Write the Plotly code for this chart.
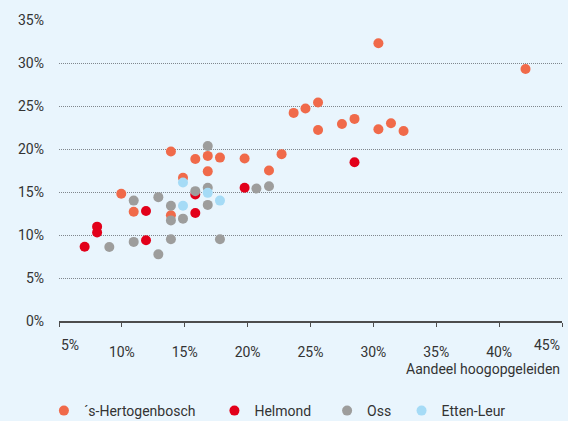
import plotly.graph_objects as go

# ---------------- data ----------------
series_names = ["\u00b4s-Hertogenbosch", "Helmond", "Oss", "Etten-Leur"]

hertogenbosch_x = [9.95, 10.94, 13.9, 13.9, 14.86, 15.84, 16.83, 16.83, 17.8, 19.76,
                   21.7, 22.7, 23.66, 24.6, 25.6, 25.6, 27.5, 28.5, 30.4, 30.4,
                   31.4, 32.4, 42.1]
hertogenbosch_y = [14.8, 12.7, 19.7, 12.3, 16.66, 18.84, 19.2, 17.4, 19.0, 18.9,
                   17.5, 19.4, 24.2, 24.7, 25.4, 22.2, 22.9, 23.5, 22.3, 32.3,
                   23.0, 22.1, 29.3]

helmond_x = [7.04, 8.03, 8.03, 11.92, 11.92, 15.84, 15.84, 19.76, 28.5]
helmond_y = [8.64, 10.97, 10.3, 12.8, 9.38, 12.56, 14.7, 15.5, 18.45]

oss_x = [9.0, 10.94, 10.94, 12.9, 12.9, 13.9, 13.9, 13.9, 14.86, 15.84,
         16.83, 16.83, 16.83, 17.8, 20.7, 21.7]
oss_y = [8.6, 14.0, 9.2, 14.4, 7.75, 13.4, 11.7, 9.5, 11.9, 15.1,
         20.35, 15.5, 13.5, 9.5, 15.4, 15.66]

ettenleur_x = [14.86, 14.86, 16.83, 17.8]
ettenleur_y = [16.1, 13.4, 14.9, 14.0]

x_tick_vals = [5, 10, 15, 20, 25, 30, 35, 40, 45]
x_tick_labels = ["5%", "10%", "15%", "20%", "25%", "30%", "35%", "40%", "45%"]
y_tick_vals = [0, 5, 10, 15, 20, 25, 30, 35]
y_tick_labels = ["0%", "5%", "10%", "15%", "20%", "25%", "30%", "35%"]
x_axis_title = "Aandeel hoogopgeleiden"

# ---------------- style ----------------
colors = ["#F06A4A", "#E2001A", "#9D9D9C", "#A5DBF6"]
bg = "#E9F5FD"
font_family = "Roboto, 'DejaVu Sans', sans-serif"
text_color = "#333333"
fnt = dict(family=font_family, size=14, color=text_color)

# legend slot positions (paper x of each legend box)
legend_x = [-0.030, 0.309, 0.533, 0.681]
legend_ids = ["legend", "legend2", "legend3", "legend4"]

fig = go.Figure()
all_series = [
    (hertogenbosch_x, hertogenbosch_y),
    (helmond_x, helmond_y),
    (oss_x, oss_y),
    (ettenleur_x, ettenleur_y),
]
for name, (xs, ys), col, lid in zip(series_names, all_series, colors, legend_ids):
    fig.add_trace(go.Scatter(
        x=[v / 100 for v in xs], y=[v / 100 for v in ys],
        mode="markers", name=name, legend=lid,
        marker=dict(color=col, size=10, line=dict(width=0)),
    ))

mid_text = [lbl if 5 < v < 45 else "" for v, lbl in zip(x_tick_vals, x_tick_labels)]

fig.update_xaxes(
    range=[0.05, 0.45],
    tickvals=[v / 100 for v in x_tick_vals], ticktext=mid_text,
    ticks="outside", ticklen=4, tickcolor="#4D4D4D", tickwidth=1,
    showline=True, linecolor="#4D4D4D", linewidth=1.5,
    showgrid=False, zeroline=False,
    tickfont=fnt, ticklabelstandoff=13,
)
fig.update_yaxes(
    range=[0, 0.35],
    tickvals=[v / 100 for v in y_tick_vals], ticktext=y_tick_labels,
    showgrid=True, gridcolor="#80878D", griddash="1px,1px", gridwidth=1,
    zeroline=False, showline=False, ticks="",
    tickfont=fnt, ticklabelstandoff=14,
)

fig.add_annotation(x=x_tick_vals[0] / 100, xref="x", y=0, yref="paper",
                   text=x_tick_labels[0], showarrow=False, xanchor="left",
                   yanchor="top", yshift=-14, font=fnt)
fig.add_annotation(x=x_tick_vals[-1] / 100, xref="x", y=0, yref="paper",
                   text=x_tick_labels[-1], showarrow=False, xanchor="right",
                   yanchor="top", yshift=-14, font=fnt)
fig.add_annotation(x=1, xref="paper", y=0, yref="paper", text=x_axis_title,
                   showarrow=False, xanchor="right", yanchor="top", yshift=-38,
                   font=fnt)

legend_common = dict(orientation="h", xanchor="left", y=-0.299, yanchor="middle",
                     bgcolor="rgba(0,0,0,0)", itemwidth=30, font=fnt,
                     itemclick=False, itemdoubleclick=False)
layout_legends = {lid: dict(legend_common, x=lx) for lid, lx in zip(legend_ids, legend_x)}

fig.update_layout(
    width=568, height=421,
    margin=dict(l=59, r=6, t=20, b=100, autoexpand=False),
    paper_bgcolor=bg, plot_bgcolor=bg,
    font=fnt,
    showlegend=True,
    **layout_legends,
)

fig.write_html(
    "out.html",
    config={"displayModeBar": False},
    post_script="document.body.style.margin='0';document.body.style.overflow='hidden';"
                "document.body.style.background='" + bg + "';",
)
